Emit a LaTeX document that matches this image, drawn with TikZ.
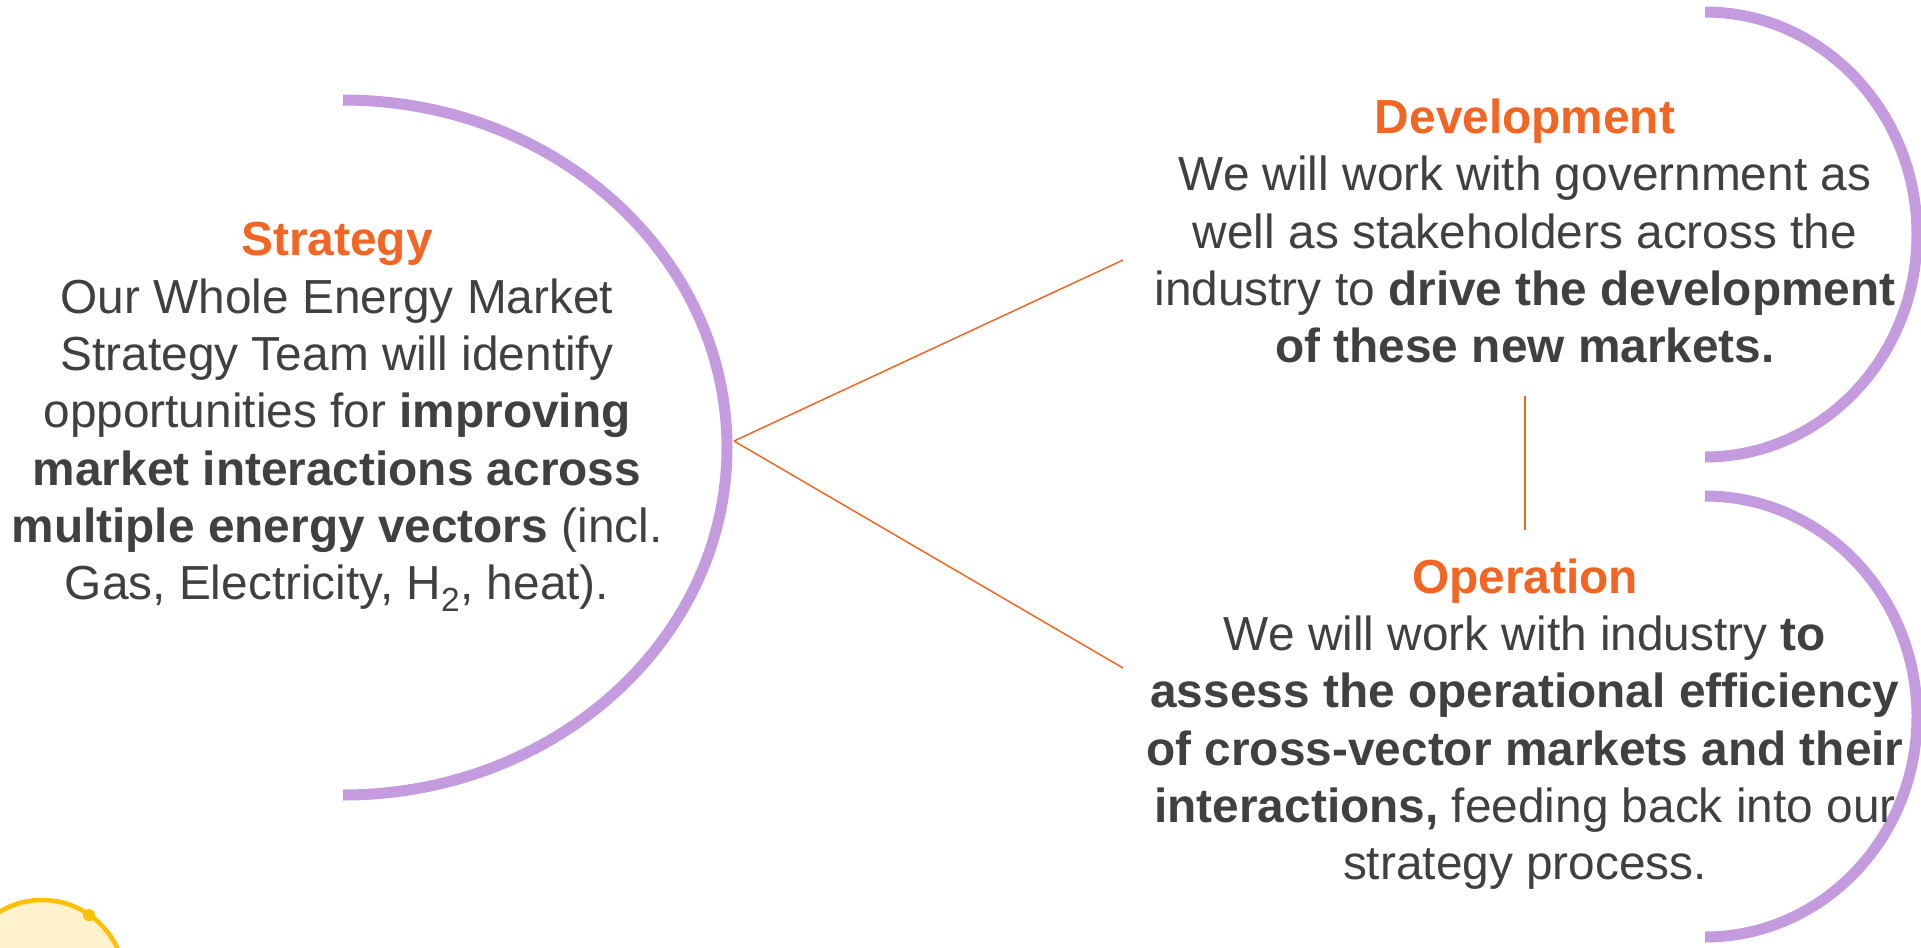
\documentclass[tikz,border=0pt]{standalone}
\usepackage{fontspec}
\setmainfont{Liberation Sans}
\usetikzlibrary{positioning}

\definecolor{arcpurple}{RGB}{196,155,222}
\definecolor{headorange}{RGB}{242,101,34}
\definecolor{bodygrey}{RGB}{64,64,64}
\definecolor{sunyellow}{RGB}{255,192,0}
\definecolor{sunfill}{RGB}{255,242,204}

\tikzset{every picture/.style={line width=0.75pt}}
\tikzset{
	bigarc/.style={draw=arcpurple, line width=8.25pt},
	linkline/.style={draw=headorange, line width=1.1pt},
	textblock/.style={inner sep=0pt, align=center, text=bodygrey,
		font=\fontsize{35.85}{43}\selectfont},
}
\newcommand{\headline}[1]{\textcolor{headorange}{\textbf{#1}}}

\begin{document}
\begin{tikzpicture}[x=0.75pt,y=0.75pt,yscale=-1,xscale=1]
		\useasboundingbox (0,0) rectangle (1921,947);
		
		%Shape: Arc [strategy]
		\draw [bigarc] (343,100) arc [start angle=-90, end angle=90, x radius=384, y radius=347.5] ;
		%Shape: Arc [development]
		\draw [bigarc] (1705,12) arc [start angle=-90, end angle=90, x radius=212, y radius=222.5] ;
		%Shape: Arc [operation]
		\draw [bigarc] (1705,496) arc [start angle=-90, end angle=90, x radius=212, y radius=220.5] ;
		
		%Shape: Circle [sun]
		\draw [draw=sunyellow, fill=sunfill, line width=3.4pt] (42,983) circle [radius=83] ;
		\fill [sunyellow] (89,915) circle [radius=6] ;
		
		\coordinate (hub) at (734,441) ;
		\coordinate (devend) at (1123,260) ;
		\coordinate (opend) at (1123,668) ;
		\coordinate (vtop) at (1525,396) ;
		\coordinate (vbot) at (1525,530) ;
		\draw [linkline] (hub) -- (devend) ;
		\draw [linkline] (hub) -- (opend) ;
		\draw [linkline] (vtop) -- (vbot) ;
		
		\node (strategy) [textblock] at (337,417) {\headline{Strategy}\\
			Our Whole Energy Market\\
			Strategy Team will identify\\
			opportunities for \textbf{improving}\\
			\textbf{market interactions across}\\
			\textbf{multiple energy vectors} (incl.\\
			Gas, Electricity, H\textsubscript{2}, heat).};
		\node (development) [textblock] at (1525,231) {\headline{Development}\\
			We will work with government as\\
			well as stakeholders across the\\
			industry to \textbf{drive the development}\\
			\textbf{of these new markets.}};
		\node (operation) [textblock] at (1525,724) {\headline{Operation}\\
			We will work with industry \textbf{to}\\
			\textbf{assess the operational efficiency}\\
			\textbf{of cross-vector markets and their}\\
			\textbf{interactions,} feeding back into our\\
			strategy process.};
		
	\end{tikzpicture}
\end{document}
